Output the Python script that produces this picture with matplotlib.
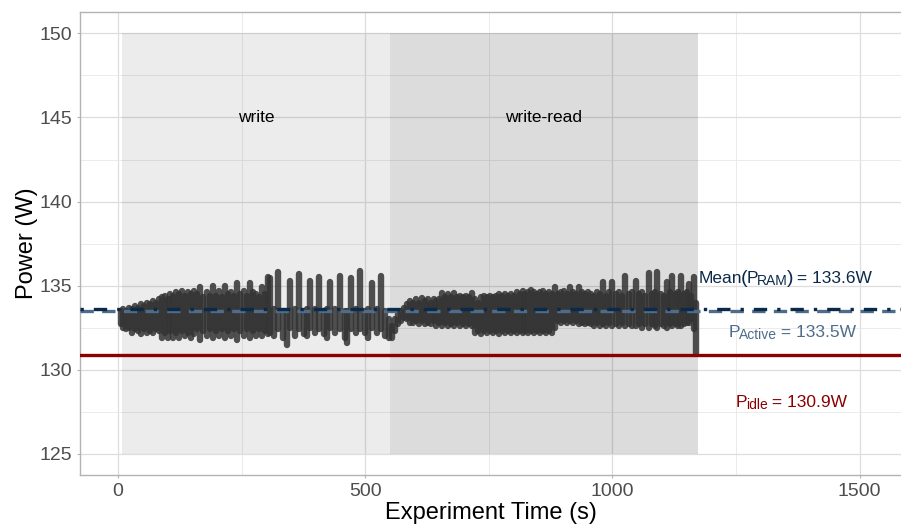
import numpy as np
import matplotlib
matplotlib.use('Agg')
import matplotlib.pyplot as plt

plt.rcParams['font.family'] = ['Liberation Sans', 'DejaVu Sans']

# power samples read off as columns: time (s), lowest and highest reading (W)
# write phase, first half
write1_t = [5, 10, 16, 22, 28, 34, 40, 46, 52, 58,
	64, 70, 76, 82, 88, 94, 100, 106, 112, 118,
	124, 130, 136, 142, 148, 154, 160, 166, 172, 179,
	185, 192, 198, 204, 210, 217, 223, 229, 235, 241,
	247, 254, 260, 267, 273, 279, 285, 291, 297, 304]
write1_lo = [132.7, 132.5, 132.4, 132.5, 132.2, 132.4, 132.3, 132.1, 132.4, 132.2,
	132.3, 132.2, 132.4, 132.3, 131.9, 132.2, 131.9, 132.3, 131.9, 132.2,
	131.9, 132.3, 132.0, 132.2, 131.9, 132.1, 132.4, 131.8, 132.3, 132.0,
	132.4, 131.9, 132.3, 132.0, 132.4, 131.9, 132.3, 132.0, 132.4, 131.8,
	132.3, 132.0, 132.4, 131.9, 132.3, 132.0, 132.4, 132.0, 132.3, 132.1]
write1_hi = [133.5, 133.6, 133.5, 133.7, 133.6, 133.8, 133.7, 133.9, 133.8, 134.0,
	133.9, 134.1, 134.0, 134.2, 134.3, 134.4, 134.2, 134.5, 134.4, 134.6,
	134.5, 134.7, 134.4, 134.6, 134.5, 134.7, 134.5, 134.9, 134.3, 134.6,
	134.4, 135.0, 134.4, 134.7, 134.3, 135.0, 134.5, 134.6, 134.4, 135.15,
	134.5, 134.7, 134.4, 135.15, 134.6, 134.5, 134.3, 134.95, 134.5, 135.5]

# write phase, second half (big spikes)
write2_t = [308, 316, 324, 334, 341, 348, 357, 366, 376, 383,
	389, 398, 407, 416, 423, 429, 439, 449, 458, 464,
	472, 481, 490, 499, 506, 514, 523, 532, 540, 547]
write2_lo = [132.2, 132.0, 132.4, 131.9, 131.5, 132.5, 132.0, 132.4, 132.1, 132.0,
	132.5, 132.2, 132.4, 132.1, 131.9, 132.5, 132.2, 132.4, 131.9, 131.6,
	132.4, 132.2, 132.4, 132.2, 131.9, 132.5, 132.2, 132.4, 132.0, 131.9]
write2_hi = [135.45, 133.6, 135.8, 133.5, 133.4, 135.3, 133.6, 135.7, 133.5, 133.6,
	135.3, 133.6, 135.5, 133.5, 133.6, 135.2, 133.6, 135.6, 133.5, 133.5,
	135.45, 133.6, 135.9, 133.5, 133.6, 135.15, 133.6, 135.6, 133.5, 133.0]

# switch to write-read
switch_t = [555, 560, 566, 572, 578, 584, 590]
switch_lo = [131.9, 132.3, 132.7, 132.9, 133.1, 133.0, 132.8]
switch_hi = [132.6, 133.0, 133.3, 133.5, 133.7, 133.9, 134.1]

# write-read phase, first part
wr1_t = [596, 602, 608, 614, 620, 626, 632, 638, 644, 650,
	656, 662, 668, 674, 680, 686, 692, 698, 704, 710,
	716, 722, 728, 734, 740, 746, 752, 758, 764, 770,
	776, 782, 788, 794, 800, 806, 812, 818, 824, 830,
	836, 842, 848, 854, 860, 866, 872, 878, 884, 890,
	896, 902, 908, 914]
wr1_lo = [132.8, 132.9, 132.7, 132.9, 132.7, 132.8, 132.7, 132.9, 132.6, 132.8,
	132.6, 132.8, 132.6, 132.7, 132.6, 132.8, 132.6, 132.7, 132.6, 132.7,
	132.6, 132.2, 132.3, 132.1, 132.3, 132.2, 132.3, 132.2, 132.3, 132.1,
	132.3, 132.2, 132.3, 132.2, 132.3, 132.2, 132.3, 132.2, 132.3, 132.2,
	132.3, 132.2, 132.3, 132.2, 132.3, 132.2, 132.3, 132.2, 132.5, 132.9,
	132.8, 132.9, 132.8, 132.9]
wr1_hi = [134.0, 134.2, 134.0, 134.25, 134.1, 134.2, 134.0, 134.2, 134.1, 134.2,
	134.55, 134.3, 134.5, 134.3, 134.55, 134.3, 134.4, 134.3, 134.4, 134.3,
	134.55, 134.2, 134.0, 134.3, 134.4, 134.3, 134.4, 134.3, 134.4, 134.5,
	134.4, 134.5, 134.4, 134.5, 134.4, 134.6, 134.5, 134.7, 134.5, 134.6,
	134.75, 134.6, 134.5, 134.6, 134.7, 134.5, 134.6, 134.5, 134.9, 134.5,
	134.6, 134.7, 134.5, 134.9]

# write-read phase, last part
wr2_t = [920, 926, 932, 938, 944, 950, 956, 962, 968, 974,
	980, 987, 993, 1000, 1007, 1013, 1020, 1026, 1033, 1040,
	1047, 1054, 1060, 1066, 1073, 1080, 1086, 1091, 1098, 1104,
	1111, 1116, 1121, 1128, 1133, 1138, 1145, 1150, 1154, 1159,
	1164, 1168]
wr2_lo = [132.8, 132.9, 132.7, 132.8, 132.7, 132.8, 132.7, 132.6, 132.8, 132.6,
	132.7, 132.6, 132.8, 132.6, 132.7, 132.6, 132.8, 132.6, 132.7, 132.6,
	132.6, 132.7, 132.5, 132.7, 132.5, 132.7, 132.6, 132.5, 132.7, 132.6,
	132.5, 132.7, 132.6, 132.7, 132.6, 132.6, 132.7, 132.8, 132.8, 133.0,
	132.4, 131.0]
wr2_hi = [134.6, 134.5, 134.9, 134.6, 134.5, 134.6, 134.5, 134.4, 134.6, 134.5,
	135.2, 134.4, 134.6, 135.2, 134.5, 134.6, 134.4, 135.6, 134.5, 134.6,
	135.3, 134.5, 134.6, 134.4, 135.75, 134.5, 134.6, 135.8, 134.5, 134.4,
	135.2, 134.6, 135.6, 134.5, 134.6, 135.6, 134.5, 134.6, 135.1, 134.4,
	135.5, 134.0]

phase_names = ['write', 'write-read']
phase_start = [8, 551]
phase_end = [551, 1172]

p_idle = 130.9
p_active = 133.5
p_ram_mean = 133.6

col_t = np.concatenate([write1_t, write2_t, switch_t, wr1_t, wr2_t])
col_lo = np.concatenate([write1_lo, write2_lo, switch_lo, wr1_lo, wr2_lo])
col_hi = np.concatenate([write1_hi, write2_hi, switch_hi, wr1_hi, wr2_hi])

fig = plt.figure(figsize=(9.01, 5.27), dpi=100)
ax = fig.add_axes([0.0888, 0.0987, 0.912, 0.878])

# grid like theme_light
ax.set_axisbelow(True)
ax.grid(True, which='major', color='#DEDEDE', lw=0.9)
ax.set_xticks([250, 750, 1250], minor=True)
ax.set_yticks([127.5, 132.5, 137.5, 142.5, 147.5], minor=True)
ax.grid(True, which='minor', color='#E8E8E8', lw=0.6)

shades = [0.075, 0.137]
for i in range(len(phase_names)):
	ax.fill_between([phase_start[i], phase_end[i]], 125, 150, color='black', alpha=shades[i], lw=0, zorder=1)
	ax.text((phase_start[i] + phase_end[i]) / 2, 145, phase_names[i], ha='center', va='center',
		fontsize=12.5, color='black', zorder=5)

ax.vlines(col_t, col_lo, col_hi, color='#333333', alpha=0.85, lw=4.6, capstyle='round', zorder=2)

ax.axhline(p_idle, color='#8B0000', lw=2.4, zorder=3)
ax.axhline(p_active, color='#4F6D8A', lw=2.4, ls=(0, (4, 2.5)), zorder=3)
ax.axhline(p_ram_mean, color='#0B2A4A', lw=2.4, ls=(0, (1, 3, 4, 3)), zorder=4)


def chain_label(x, y, pieces, color):
	# pieces: (text, fontsize, baseline shift in pt), laid out left to right
	txt, size, dy = pieces[0]
	prev = ax.text(x, y, txt, fontsize=size, color=color, ha='left', va='baseline', zorder=5)
	prev_size, prev_dy = size, dy
	for txt, size, dy in pieces[1:]:
		off = (dy - prev_dy) + 0.21 * (prev_size - size)
		prev = ax.annotate(txt, xy=(1, 0), xycoords=prev, xytext=(-0.8, off), textcoords='offset points',
			fontsize=size, color=color, ha='left', va='bottom', zorder=5)
		prev_size, prev_dy = size, dy


chain_label(1174, 135.14, [('Mean', 12.5, 0), ('(', 14, -0.5), ('P', 12.5, 0), ('RAM', 10, -2),
	(')', 14, -0.5), (' = 133.6W', 12.5, 0)], '#0B2A4A')
chain_label(1235, 131.95, [('P', 12.5, 0), ('Active', 10, -2), (' = 133.5W', 12.5, 0)], '#4F6D8A')
chain_label(1249, 127.8, [('P', 12.5, 0), ('idle', 10, -2), (' = 130.9W', 12.5, 0)], '#8B0000')

ax.set_xlim(-77, 1585)
ax.set_ylim(123.75, 151.25)
ax.set_xticks([0, 500, 1000, 1500])
ax.set_yticks([125, 130, 135, 140, 145, 150])
ax.tick_params(which='major', length=2.5, color='#B3B3B3', labelcolor='#4D4D4D', labelsize=14, pad=3)
ax.tick_params(which='minor', length=0)
for s in ax.spines.values():
	s.set_color('#B3B3B3')
	s.set_linewidth(1)

ax.set_xlabel('Experiment Time (s)', fontsize=17, labelpad=2)
ax.set_ylabel('Power (W)', fontsize=17, labelpad=1)

fig.savefig('out.png', dpi=100)
